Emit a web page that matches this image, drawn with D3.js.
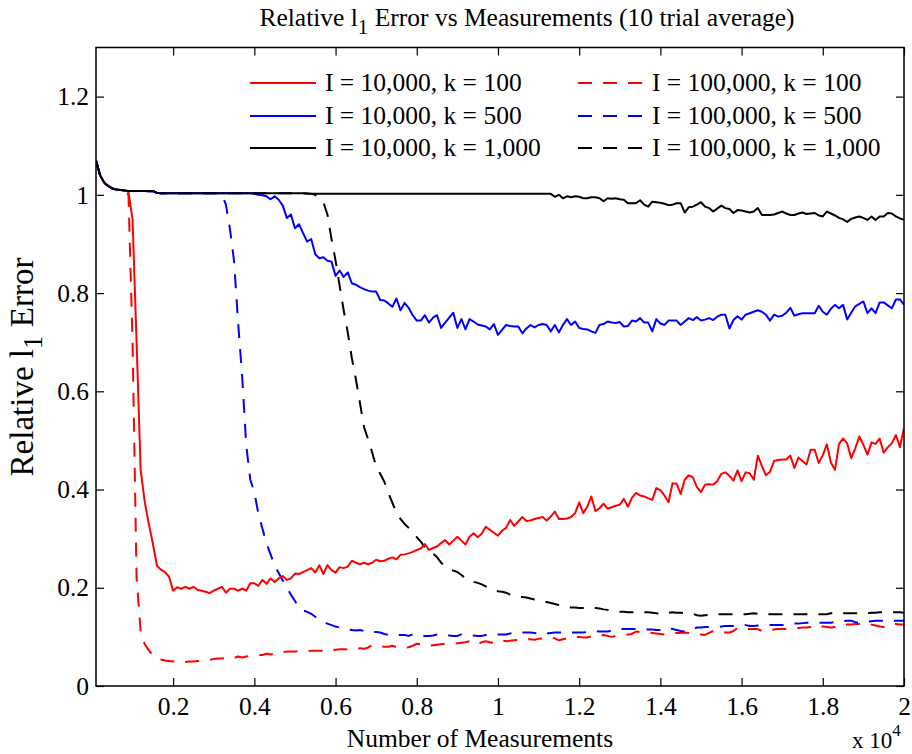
<!DOCTYPE html>
<html>
<head>
<meta charset="utf-8">
<script src="https://cdn.jsdelivr.net/npm/d3@7"></script>
<style>
  html, body { margin: 0; padding: 0; background: #fff; }
  svg { display: block; }
  text { font-family: "Liberation Serif", "Times New Roman", serif; fill: #000; }
</style>
</head>
<body>
<svg id="chart" width="912" height="754"></svg>
<script>
// Number of measurements: 100 to 20,000 in steps of 100
const measurements = d3.range(100, 20001, 100);

// Relative l1 error, I = 10,000
const redSolid = [
  1.07, 1.04, 1.025, 1.018, 1.013, 1.011, 1.01, 1.009, 1.006, 0.95,
  0.70, 0.44, 0.375, 0.33, 0.29, 0.245, 0.237, 0.232, 0.222, 0.194,
  0.201, 0.198, 0.202, 0.198, 0.202, 0.196, 0.194, 0.192, 0.189, 0.194,
  0.198, 0.202, 0.190, 0.198, 0.198, 0.194, 0.198, 0.194, 0.209, 0.209,
  0.204, 0.216, 0.208, 0.219, 0.212, 0.219, 0.224, 0.216, 0.219, 0.229,
  0.228, 0.232, 0.236, 0.240, 0.231, 0.246, 0.228, 0.246, 0.236, 0.231,
  0.242, 0.240, 0.243, 0.255, 0.251, 0.248, 0.251, 0.248, 0.251, 0.257,
  0.254, 0.255, 0.259, 0.262, 0.258, 0.267, 0.268, 0.270, 0.273, 0.277,
  0.280, 0.289, 0.277, 0.281, 0.284, 0.291, 0.297, 0.288, 0.296, 0.304,
  0.296, 0.288, 0.304, 0.311, 0.303, 0.310, 0.324, 0.318, 0.312, 0.306,
  0.316, 0.322, 0.338, 0.326, 0.335, 0.344, 0.336, 0.337, 0.340, 0.342,
  0.344, 0.337, 0.345, 0.355, 0.340, 0.340, 0.341, 0.344, 0.352, 0.374,
  0.352, 0.365, 0.386, 0.356, 0.362, 0.371, 0.361, 0.364, 0.367, 0.369,
  0.381, 0.365, 0.383, 0.393, 0.388, 0.386, 0.382, 0.379, 0.403, 0.399,
  0.388, 0.374, 0.413, 0.412, 0.391, 0.420, 0.429, 0.425, 0.405, 0.395,
  0.410, 0.411, 0.410, 0.417, 0.432, 0.435, 0.428, 0.418, 0.439, 0.417,
  0.435, 0.433, 0.420, 0.469, 0.448, 0.429, 0.436, 0.458, 0.460, 0.461,
  0.461, 0.469, 0.444, 0.465, 0.458, 0.451, 0.481, 0.481, 0.454, 0.470,
  0.492, 0.455, 0.440, 0.493, 0.504, 0.494, 0.464, 0.484, 0.508, 0.491,
  0.471, 0.496, 0.493, 0.504, 0.475, 0.486, 0.494, 0.511, 0.486, 0.525
];
const blueSolid = [
  1.07, 1.04, 1.025, 1.018, 1.013, 1.011, 1.01, 1.009, 1.008, 1.008,
  1.008, 1.008, 1.008, 1.007, 1.007, 1.004, 1.003, 1.003, 1.003, 1.003,
  1.003, 1.003, 1.003, 1.003, 1.003, 1.003, 1.003, 1.003, 1.003, 1.003,
  1.003, 1.003, 1.003, 1.003, 1.003, 1.003, 1.003, 1.003, 1.003, 1.002,
  1.0, 0.999, 0.997, 0.991, 0.997, 0.99, 0.978, 0.953, 0.96, 0.932,
  0.94, 0.922, 0.905, 0.910, 0.879, 0.871, 0.873, 0.866, 0.864, 0.835,
  0.846, 0.833, 0.842, 0.820, 0.817, 0.812, 0.808, 0.805, 0.803, 0.803,
  0.786, 0.785, 0.779, 0.772, 0.789, 0.765, 0.780, 0.770, 0.755, 0.744,
  0.744, 0.755, 0.740, 0.750, 0.755, 0.729, 0.740, 0.750, 0.760, 0.729,
  0.747, 0.726, 0.747, 0.742, 0.736, 0.734, 0.732, 0.726, 0.737, 0.715,
  0.725, 0.735, 0.733, 0.732, 0.732, 0.718, 0.728, 0.735, 0.730, 0.735,
  0.737, 0.735, 0.722, 0.735, 0.720, 0.735, 0.747, 0.735, 0.742, 0.729,
  0.727, 0.726, 0.722, 0.719, 0.735, 0.737, 0.742, 0.740, 0.739, 0.741,
  0.732, 0.733, 0.744, 0.742, 0.749, 0.740, 0.740, 0.722, 0.747, 0.738,
  0.735, 0.744, 0.744, 0.744, 0.735, 0.742, 0.749, 0.745, 0.751, 0.744,
  0.746, 0.749, 0.745, 0.752, 0.756, 0.756, 0.728, 0.745, 0.753, 0.746,
  0.756, 0.759, 0.762, 0.765, 0.762, 0.756, 0.744, 0.756, 0.752, 0.754,
  0.760, 0.770, 0.754, 0.757, 0.759, 0.759, 0.759, 0.759, 0.774, 0.762,
  0.756, 0.768, 0.776, 0.769, 0.776, 0.746, 0.760, 0.773, 0.778, 0.783,
  0.759, 0.769, 0.759, 0.781, 0.781, 0.775, 0.769, 0.787, 0.787, 0.776
];
const blackSolid = [
  1.07, 1.04, 1.025, 1.018, 1.013, 1.011, 1.01, 1.009, 1.008, 1.008,
  1.008, 1.008, 1.008, 1.008, 1.008, 1.004, 1.003, 1.003, 1.003, 1.003,
  1.003, 1.003, 1.003, 1.003, 1.003, 1.003, 1.003, 1.003, 1.003, 1.003,
  1.003, 1.003, 1.003, 1.003, 1.003, 1.003, 1.003, 1.003, 1.003, 1.003,
  1.003, 1.003, 1.003, 1.003, 1.003, 1.003, 1.003, 1.003, 1.003, 1.003,
  1.003, 1.003, 1.002, 1.002, 1.002, 1.002, 1.002, 1.002, 1.002, 1.002,
  1.002, 1.002, 1.002, 1.002, 1.002, 1.002, 1.002, 1.002, 1.002, 1.002,
  1.002, 1.002, 1.002, 1.002, 1.002, 1.002, 1.002, 1.002, 1.002, 1.002,
  1.002, 1.002, 1.002, 1.002, 1.002, 1.002, 1.002, 1.002, 1.002, 1.002,
  1.002, 1.002, 1.002, 1.002, 1.002, 1.002, 1.002, 1.002, 1.002, 1.002,
  1.002, 1.002, 1.002, 1.002, 1.002, 1.002, 1.002, 1.002, 1.002, 1.002,
  1.002, 1.002, 1.002, 0.996, 1.0, 0.993, 0.997, 0.995, 0.997, 0.996,
  0.993, 0.993, 0.995, 0.995, 0.993, 0.987, 0.993, 0.992, 0.993, 0.991,
  0.990, 0.983, 0.983, 0.983, 0.989, 0.980, 0.976, 0.986, 0.985, 0.984,
  0.982, 0.979, 0.980, 0.983, 0.983, 0.964, 0.975, 0.976, 0.980, 0.985,
  0.976, 0.973, 0.966, 0.972, 0.978, 0.973, 0.971, 0.963, 0.969, 0.968,
  0.966, 0.964, 0.966, 0.973, 0.959, 0.959, 0.959, 0.960, 0.963, 0.966,
  0.962, 0.959, 0.959, 0.962, 0.964, 0.961, 0.962, 0.963, 0.958, 0.956,
  0.966, 0.962, 0.958, 0.953, 0.950, 0.945, 0.951, 0.954, 0.956, 0.953,
  0.949, 0.956, 0.949, 0.956, 0.956, 0.963, 0.962, 0.956, 0.952, 0.949
];

// Relative l1 error, I = 100,000
const redDashed = [
  1.07, 1.04, 1.025, 1.018, 1.013, 1.011, 1.01, 1.009, 1.0, 0.70,
  0.22, 0.11, 0.085, 0.073, 0.062, 0.056, 0.054, 0.052, 0.051, 0.050,
  0.050, 0.050, 0.049, 0.050, 0.050, 0.051, 0.051, 0.053, 0.053, 0.055,
  0.056, 0.056, 0.057, 0.056, 0.057, 0.060, 0.058, 0.060, 0.061, 0.062,
  0.063, 0.063, 0.066, 0.064, 0.066, 0.068, 0.069, 0.070, 0.070, 0.070,
  0.071, 0.071, 0.071, 0.072, 0.072, 0.072, 0.072, 0.073, 0.073, 0.074,
  0.075, 0.075, 0.074, 0.076, 0.075, 0.077, 0.076, 0.078, 0.083, 0.082,
  0.081, 0.080, 0.080, 0.082, 0.079, 0.078, 0.078, 0.079, 0.082, 0.086,
  0.085, 0.084, 0.082, 0.083, 0.084, 0.085, 0.086, 0.086, 0.086, 0.087,
  0.088, 0.089, 0.091, 0.092, 0.086, 0.089, 0.091, 0.089, 0.088, 0.088,
  0.093, 0.091, 0.092, 0.093, 0.094, 0.094, 0.095, 0.095, 0.094, 0.096,
  0.097, 0.098, 0.099, 0.097, 0.093, 0.095, 0.097, 0.099, 0.100, 0.100,
  0.099, 0.099, 0.101, 0.102, 0.103, 0.104, 0.102, 0.100, 0.102, 0.103,
  0.104, 0.105, 0.106, 0.111, 0.110, 0.109, 0.109, 0.108, 0.107, 0.106,
  0.105, 0.106, 0.107, 0.108, 0.108, 0.109, 0.108, 0.107, 0.106, 0.105,
  0.104, 0.108, 0.112, 0.111, 0.110, 0.109, 0.109, 0.112, 0.118, 0.117,
  0.116, 0.116, 0.116, 0.116, 0.112, 0.113, 0.114, 0.115, 0.116, 0.116,
  0.116, 0.117, 0.118, 0.118, 0.119, 0.119, 0.120, 0.124, 0.122, 0.121,
  0.120, 0.119, 0.120, 0.124, 0.124, 0.125, 0.125, 0.126, 0.126, 0.127,
  0.127, 0.125, 0.123, 0.121, 0.120, 0.123, 0.126, 0.126, 0.125, 0.125
];
const blueDashed = [
  1.07, 1.04, 1.025, 1.018, 1.013, 1.011, 1.01, 1.009, 1.008, 1.008,
  1.008, 1.008, 1.008, 1.007, 1.007, 1.004, 1.003, 1.003, 1.003, 1.003,
  1.003, 1.003, 1.003, 1.003, 1.003, 1.003, 1.003, 1.003, 1.003, 1.003,
  1.003, 1.0, 0.98, 0.93, 0.865, 0.74, 0.63, 0.49, 0.42, 0.395,
  0.35, 0.32, 0.29, 0.268, 0.245, 0.23, 0.215, 0.20, 0.186, 0.173,
  0.16, 0.154, 0.151, 0.147, 0.141, 0.135, 0.131, 0.127, 0.124, 0.121,
  0.119, 0.117, 0.115, 0.114, 0.113, 0.114, 0.112, 0.113, 0.110, 0.110,
  0.109, 0.106, 0.104, 0.104, 0.104, 0.104, 0.104, 0.102, 0.105, 0.104,
  0.103, 0.102, 0.102, 0.103, 0.105, 0.104, 0.103, 0.103, 0.102, 0.102,
  0.105, 0.104, 0.103, 0.103, 0.102, 0.102, 0.104, 0.105, 0.105, 0.105,
  0.105, 0.105, 0.107, 0.109, 0.109, 0.109, 0.109, 0.109, 0.108, 0.106,
  0.105, 0.107, 0.108, 0.109, 0.109, 0.109, 0.109, 0.109, 0.109, 0.109,
  0.109, 0.110, 0.112, 0.112, 0.111, 0.111, 0.111, 0.112, 0.115, 0.116,
  0.116, 0.116, 0.116, 0.116, 0.116, 0.116, 0.115, 0.115, 0.114, 0.114,
  0.114, 0.118, 0.116, 0.114, 0.112, 0.111, 0.112, 0.116, 0.119, 0.119,
  0.120, 0.120, 0.120, 0.120, 0.121, 0.122, 0.122, 0.122, 0.123, 0.124,
  0.124, 0.122, 0.122, 0.123, 0.123, 0.124, 0.124, 0.124, 0.124, 0.124,
  0.125, 0.126, 0.127, 0.127, 0.128, 0.129, 0.129, 0.129, 0.129, 0.129,
  0.129, 0.129, 0.130, 0.131, 0.132, 0.133, 0.133, 0.130, 0.129, 0.130,
  0.131, 0.132, 0.133, 0.133, 0.133, 0.133, 0.133, 0.133, 0.133, 0.133
];
const blackDashed = [
  1.07, 1.04, 1.025, 1.018, 1.013, 1.011, 1.01, 1.009, 1.008, 1.008,
  1.008, 1.008, 1.008, 1.008, 1.008, 1.004, 1.003, 1.003, 1.003, 1.003,
  1.003, 1.003, 1.003, 1.003, 1.003, 1.003, 1.003, 1.003, 1.003, 1.003,
  1.003, 1.003, 1.003, 1.003, 1.003, 1.003, 1.003, 1.003, 1.003, 1.003,
  1.003, 1.003, 1.003, 1.003, 1.003, 1.003, 1.003, 1.003, 1.003, 1.003,
  1.003, 1.003, 1.003, 1.002, 1.0, 0.992, 0.985, 0.96, 0.91, 0.866,
  0.815, 0.765, 0.72, 0.668, 0.625, 0.577, 0.527, 0.503, 0.476, 0.447,
  0.432, 0.416, 0.393, 0.373, 0.353, 0.340, 0.330, 0.322, 0.314, 0.303,
  0.294, 0.282, 0.274, 0.270, 0.262, 0.251, 0.244, 0.238, 0.235, 0.232,
  0.226, 0.219, 0.214, 0.212, 0.210, 0.207, 0.203, 0.199, 0.195, 0.193,
  0.192, 0.190, 0.186, 0.184, 0.182, 0.181, 0.180, 0.178, 0.176, 0.174,
  0.172, 0.171, 0.169, 0.167, 0.165, 0.163, 0.161, 0.160, 0.160, 0.159,
  0.159, 0.159, 0.159, 0.159, 0.158, 0.156, 0.155, 0.154, 0.152, 0.151,
  0.151, 0.150, 0.150, 0.150, 0.150, 0.150, 0.150, 0.149, 0.148, 0.147,
  0.146, 0.149, 0.150, 0.149, 0.149, 0.148, 0.148, 0.147, 0.144, 0.143,
  0.144, 0.145, 0.146, 0.146, 0.146, 0.146, 0.146, 0.146, 0.146, 0.146,
  0.146, 0.147, 0.148, 0.147, 0.146, 0.146, 0.146, 0.146, 0.146, 0.146,
  0.146, 0.146, 0.146, 0.146, 0.146, 0.146, 0.146, 0.146, 0.146, 0.146,
  0.146, 0.148, 0.150, 0.149, 0.148, 0.148, 0.148, 0.148, 0.148, 0.148,
  0.148, 0.149, 0.149, 0.150, 0.150, 0.150, 0.150, 0.150, 0.150, 0.149
];

const xTicks = [2000, 4000, 6000, 8000, 10000, 12000, 14000, 16000, 18000, 20000];
const xTickLabels = ["0.2", "0.4", "0.6", "0.8", "1", "1.2", "1.4", "1.6", "1.8", "2"];
const yTicks = [0, 0.2, 0.4, 0.6, 0.8, 1.0, 1.2];
const yTickLabels = ["0", "0.2", "0.4", "0.6", "0.8", "1", "1.2"];

const seriesNames = [
  "I = 10,000, k = 100", "I = 10,000, k = 500", "I = 10,000, k = 1,000",
  "I = 100,000, k = 100", "I = 100,000, k = 500", "I = 100,000, k = 1,000"
];
const seriesColors = ["#ff0000", "#0000ff", "#000000", "#ff0000", "#0000ff", "#000000"];
const seriesDashed = [false, false, false, true, true, true];
const seriesValues = [redSolid, blueSolid, blackSolid, redDashed, blueDashed, blackDashed];

const svg = d3.select("#chart");
const box = { left: 96, right: 904, top: 47.5, bottom: 686 };

const x = d3.scaleLinear().domain([100, 20000]).range([box.left, box.right]);
const y = d3.scaleLinear().domain([0, 1.3]).range([box.bottom, box.top]);

svg.append("rect").attr("width", 912).attr("height", 754).attr("fill", "#fff");

// clip curves to the axes box
svg.append("clipPath").attr("id", "plotClip")
  .append("rect")
  .attr("x", box.left).attr("y", box.top)
  .attr("width", box.right - box.left).attr("height", box.bottom - box.top);

const line = d3.line().x((d, i) => x(measurements[i])).y(d => y(d));

// dashed series underneath, solid series on top
const order = [3, 4, 5, 0, 1, 2];
const curves = svg.append("g").attr("clip-path", "url(#plotClip)");
order.forEach(k => {
  curves.append("path")
    .datum(seriesValues[k])
    .attr("d", line)
    .attr("fill", "none")
    .attr("stroke", seriesColors[k])
    .attr("stroke-width", 2)
    .attr("stroke-linejoin", "round")
    .attr("stroke-dasharray", seriesDashed[k] ? "14 11" : null);
});

// axes: ticks point inward on all four sides
const tickLen = 8;
const fontSize = 25.5;

const xAxis = d3.axisBottom(x).tickValues(xTicks)
  .tickFormat((d, i) => xTickLabels[i])
  .tickSizeInner(-tickLen).tickSizeOuter(0).tickPadding(11);
const gx = svg.append("g").attr("transform", `translate(0,${box.bottom})`).call(xAxis);

const xTop = d3.axisTop(x).tickValues(xTicks).tickFormat("")
  .tickSizeInner(-tickLen).tickSizeOuter(0);
const gxt = svg.append("g").attr("transform", `translate(0,${box.top})`).call(xTop);

const yAxis = d3.axisLeft(y).tickValues(yTicks)
  .tickFormat((d, i) => yTickLabels[i])
  .tickSizeInner(-tickLen).tickSizeOuter(0).tickPadding(7);
const gy = svg.append("g").attr("transform", `translate(${box.left},0)`).call(yAxis);

const yRight = d3.axisRight(y).tickValues(yTicks).tickFormat("")
  .tickSizeInner(-tickLen).tickSizeOuter(0);
const gyr = svg.append("g").attr("transform", `translate(${box.right},0)`).call(yRight);

[gx, gxt, gy, gyr].forEach(g => {
  g.select(".domain").remove();
  g.selectAll(".tick line").attr("stroke", "#000").attr("stroke-width", 1.2);
  g.selectAll(".tick text")
    .attr("font-family", "Liberation Serif, Times New Roman, serif")
    .attr("font-size", fontSize).attr("fill", "#000");
});

svg.append("rect")
  .attr("x", box.left).attr("y", box.top)
  .attr("width", box.right - box.left).attr("height", box.bottom - box.top)
  .attr("fill", "none").attr("stroke", "#000").attr("stroke-width", 1.5);

// exponent of the x axis
const expo = svg.append("text").attr("x", 852).attr("y", 748).attr("font-size", 23);
expo.append("tspan").text("x 10");
expo.append("tspan").attr("dy", -12).attr("font-size", 17).text("4");

// title
const title = svg.append("text").attr("x", 527).attr("y", 26)
  .attr("text-anchor", "middle").attr("font-size", fontSize);
title.append("tspan").text("Relative l");
title.append("tspan").attr("dy", 8).attr("font-size", 21).text("1");
title.append("tspan").attr("dy", -8).text(" Error vs Measurements (10 trial average)");

// axis labels
svg.append("text").attr("x", 480).attr("y", 747)
  .attr("text-anchor", "middle").attr("font-size", fontSize)
  .text("Number of Measurements");

const ylab = svg.append("text")
  .attr("transform", "translate(33,367) rotate(-90)")
  .attr("text-anchor", "middle").attr("font-size", 33);
ylab.append("tspan").text("Relative l");
ylab.append("tspan").attr("dy", 9).attr("font-size", 27).text("1");
ylab.append("tspan").attr("dy", -9).text(" Error");

// legend: solid series on the left, dashed series on the right
const legendRows = [83, 116, 148];
const legendCols = [{ x0: 250, x1: 316, tx: 325 }, { x0: 578, x1: 645, tx: 652 }];
seriesNames.forEach((name, k) => {
  const col = legendCols[seriesDashed[k] ? 1 : 0];
  const row = legendRows[k % 3];
  svg.append("line")
    .attr("x1", col.x0).attr("x2", col.x1).attr("y1", row).attr("y2", row)
    .attr("stroke", seriesColors[k]).attr("stroke-width", 2)
    .attr("stroke-dasharray", seriesDashed[k] ? "14 11" : null);
  svg.append("text").attr("x", col.tx).attr("y", row + 8)
    .attr("font-size", fontSize).text(name);
});
</script>
</body>
</html>
